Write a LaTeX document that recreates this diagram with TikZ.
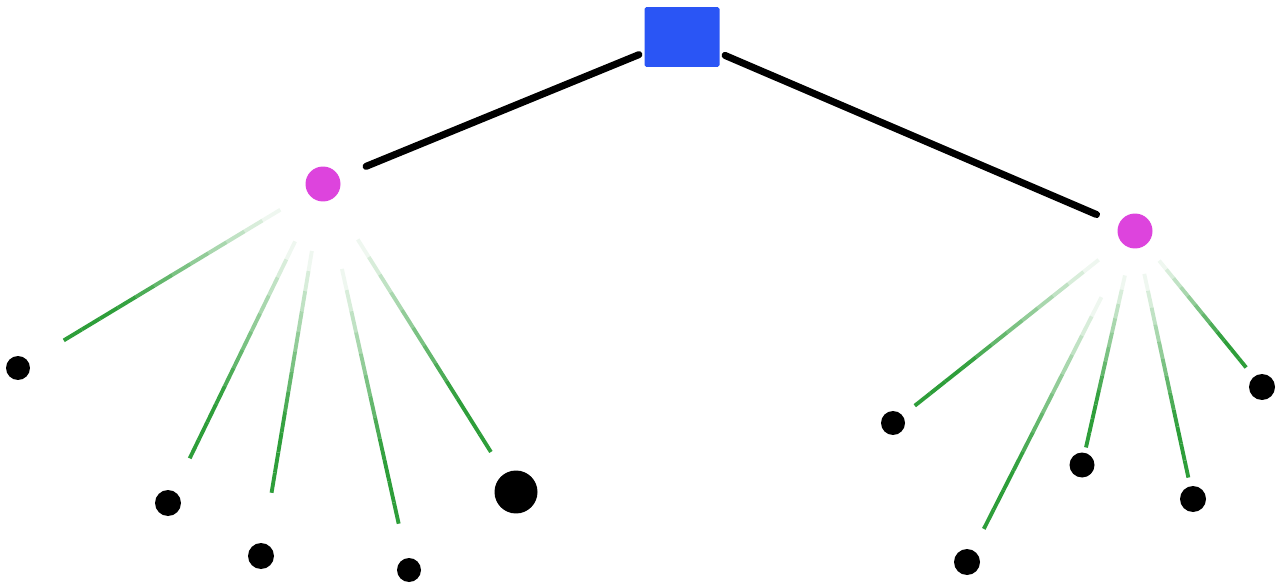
\documentclass[tikz,border=0pt]{standalone}
\usetikzlibrary{calc,shapes.geometric}

\definecolor{rootblue}{HTML}{2A55F5}
\definecolor{innerpink}{HTML}{DD44DD}
\definecolor{leafgreen}{HTML}{2E9E3A}

\tikzset{
  rootbox/.style={fill=rootblue, minimum width=1.5cm, minimum height=1.2cm, inner sep=0pt, rounded corners=1pt},
  inner/.style={fill=innerpink, ellipse, minimum width=0.7cm, minimum height=0.7cm, inner sep=0pt},
  leaf/.style={fill=black, circle, inner sep=0pt, minimum size=#1},
  leaf/.default=0.5cm,
  trunk/.style={draw=black, line width=4pt, line cap=round},
  twig/.style={draw=leafgreen, line width=2.2pt, line cap=butt}
}

% faded green edge: parent, child, start fraction, end fraction
\newcommand{\twigedge}[4]{%
  \foreach \k in {0,...,11}{
    \pgfmathsetmacro{\ta}{#3+(#4-#3)*\k/12}
    \pgfmathsetmacro{\tb}{#3+(#4-#3)*(\k+1)/12}
    \pgfmathsetmacro{\op}{min(1,0.08+0.11*\k)}
    \draw[twig, draw opacity=\op] ($(#1)!\ta!(#2)$) -- ($(#1)!\tb!(#2)$);
  }
}

\begin{document}
\begin{tikzpicture}[x=0.02cm, y=-0.02cm]
  \useasboundingbox (0,0) rectangle (1281,584);

  % nodes
  \node[rootbox] (root) at (682,37) {};
  \node[inner] (lft) at (323,184) {};
  \node[inner] (rgt) at (1135,231) {};

  \node[leaf=0.48cm] (la) at (18,368) {};
  \node[leaf=0.52cm] (lb) at (168,503) {};
  \node[leaf=0.52cm] (lc) at (261,556) {};
  \node[leaf=0.48cm] (ld) at (409,570) {};
  \node[leaf=0.86cm] (le) at (516,492) {};

  \node[leaf=0.48cm] (ra) at (893,423) {};
  \node[leaf=0.52cm] (rb) at (967,562) {};
  \node[leaf=0.50cm] (rc) at (1082,465) {};
  \node[leaf=0.52cm] (rd) at (1193,499) {};
  \node[leaf=0.52cm] (re) at (1262,387) {};

  % black edges
  \draw[trunk] ($(root)!0.12!(lft)$) -- ($(root)!0.88!(lft)$);
  \draw[trunk] ($(root)!0.095!(rgt)$) -- ($(root)!0.915!(rgt)$);

  % green edges
  \twigedge{lft}{la}{0.14}{0.85}
  \twigedge{lft}{lb}{0.18}{0.86}
  \twigedge{lft}{lc}{0.18}{0.83}
  \twigedge{lft}{ld}{0.22}{0.88}
  \twigedge{lft}{le}{0.18}{0.87}

  \twigedge{rgt}{ra}{0.15}{0.91}
  \twigedge{rgt}{rb}{0.20}{0.90}
  \twigedge{rgt}{rc}{0.19}{0.925}
  \twigedge{rgt}{rd}{0.16}{0.92}
  \twigedge{rgt}{re}{0.19}{0.875}
\end{tikzpicture}
\end{document}
